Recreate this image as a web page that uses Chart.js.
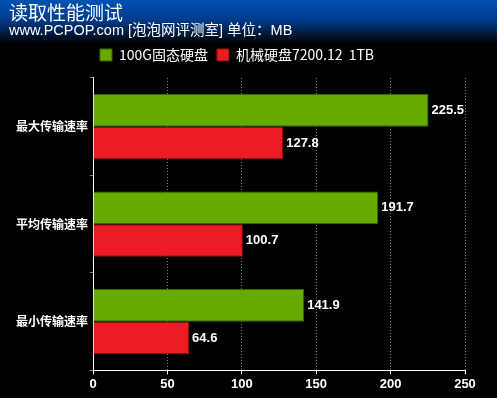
<!DOCTYPE html>
<html>
<head>
<meta charset="utf-8">
<script src="https://cdn.jsdelivr.net/npm/chart.js@4"></script>
<style>
  body { margin: 0; background: #000; }
  #wrap { width: 497px; height: 398px; }
</style>
</head>
<body>
<div id="wrap"><canvas id="myChart" width="497" height="398"></canvas></div>
<script>
const categories = ['最大传输速率', '平均传输速率', '最小传输速率'];
const ssdValues = [225.5, 191.7, 141.9];
const hddValues = [127.8, 100.7, 64.6];
const seriesNames = ['100G固态硬盘', '机械硬盘7200.12  1TB'];

// blue header fading into black
const bgPlugin = {
  id: 'bg',
  beforeDraw(chart) {
    const c = chart.ctx;
    const g = c.createLinearGradient(0, 0, 0, 44);
    g.addColorStop(0, '#0052b4');
    g.addColorStop(0.45, '#003c8c');
    g.addColorStop(1, '#000000');
    c.save();
    c.fillStyle = '#000';
    c.fillRect(0, 0, chart.width, chart.height);
    c.fillStyle = g;
    c.fillRect(0, 0, chart.width, 44);
    c.restore();
  }
};

// value labels at the end of each bar
const valueLabels = {
  id: 'valueLabels',
  afterDatasetsDraw(chart) {
    const c = chart.ctx;
    c.save();
    c.font = 'bold 13px "Liberation Sans", Arial, sans-serif';
    c.fillStyle = '#fff';
    c.textBaseline = 'middle';
    chart.data.datasets.forEach((ds, i) => {
      chart.getDatasetMeta(i).data.forEach((bar, j) => {
        c.fillText(ds.data[j].toFixed(1), bar.x + 3, bar.y);
      });
    });
    c.restore();
  }
};

const ctx = document.getElementById('myChart');
new Chart(ctx, {
  type: 'bar',
  data: {
    labels: categories,
    datasets: [{
      label: seriesNames[0],
      data: ssdValues,
      backgroundColor: '#66ab00',
      borderColor: '#3b6500',
      borderWidth: 1
    }, {
      label: seriesNames[1],
      data: hddValues,
      backgroundColor: '#ed1c24',
      borderColor: '#8e1015',
      borderWidth: 1
    }]
  },
  options: {
    indexAxis: 'y',
    responsive: false,
    animation: false,
    barPercentage: 1,
    categoryPercentage: 0.67,
    layout: { padding: { left: 9, right: 32, top: 3, bottom: 4 } },
    plugins: {
      title: {
        display: true,
        text: '读取性能测试',
        align: 'start',
        color: '#fff',
        font: { family: '"Noto Sans CJK SC"', size: 19, weight: 'normal', lineHeight: 1 },
        padding: { top: 0, bottom: 0 }
      },
      subtitle: {
        display: true,
        text: 'www.PCPOP.com [泡泡网评测室] 单位：MB',
        align: 'start',
        color: '#fff',
        font: { family: '"Liberation Sans", "Noto Sans CJK SC"', size: 14.5, lineHeight: 1.1 },
        padding: { top: 1, bottom: 0 }
      },
      legend: {
        labels: {
          color: '#fff',
          boxWidth: 12,
          boxHeight: 12,
          padding: 9,
          font: { family: '"Noto Sans CJK SC"', size: 14 }
        }
      },
      tooltip: { enabled: false }
    },
    scales: {
      x: {
        min: 0,
        max: 250,
        ticks: {
          stepSize: 50,
          color: '#fff',
          padding: 2,
          font: { family: '"Liberation Sans", Arial', size: 13, weight: 'bold' }
        },
        grid: {
          color: '#808080',
          tickColor: '#fff',
          tickLength: 4
        },
        border: { color: '#fff', dash: [1, 2] }
      },
      // empty spacer above the plot
      gap: {
        type: 'linear',
        position: 'top',
        afterFit(scale) { scale.height = 6; },
        ticks: { display: false },
        grid: { display: false },
        border: { display: false }
      },
      y: {
        afterFit(scale) { scale.width = 84; },
        ticks: {
          color: '#fff',
          padding: 2,
          font: { family: '"Noto Sans CJK SC"', size: 12, weight: 'bold' }
        },
        grid: {
          drawOnChartArea: false,
          color: '#888',
          tickLength: 3
        },
        border: { color: '#fff' }
      }
    }
  },
  plugins: [bgPlugin, valueLabels]
});
</script>
</body>
</html>
